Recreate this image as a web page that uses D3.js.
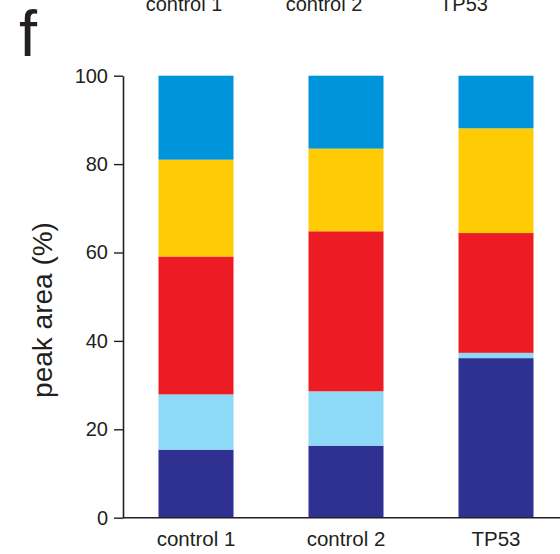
<!DOCTYPE html>
<html>
<head>
<meta charset="utf-8">
<script src="https://cdn.jsdelivr.net/npm/d3@7/dist/d3.min.js"></script>
<style>
  html, body { margin: 0; padding: 0; background: #fff; }
  svg { display: block; font-family: "Liberation Sans", Arial, Helvetica, sans-serif; }
</style>
</head>
<body>
<svg id="chart" width="560" height="554"></svg>
<script>
// Samples on the x axis
const categories = ["control 1", "control 2", "TP53"];

// Peak-area fractions (%) per component, stacked bottom to top
const seriesKeys = ["s1", "s2", "s3", "s4", "s5"];
const s1 = [15.4, 16.3, 36.1];   // navy
const s2 = [12.5, 12.3, 1.2];    // light blue
const s3 = [31.2, 36.2, 27.1];   // red
const s4 = [21.9, 18.7, 23.7];   // yellow
const s5 = [19.0, 16.5, 11.9];   // blue

const yTicks = [0, 20, 40, 60, 80, 100];
const colors = ["#2E3192", "#8ED8F8", "#ED1C24", "#FFCB05", "#0095DA"];

const rows = categories.map((c, i) => ({
  category: c, s1: s1[i], s2: s2[i], s3: s3[i], s4: s4[i], s5: s5[i]
}));

const svg = d3.select("#chart");
const ink = "#231F20";

const x = d3.scaleBand()
  .domain(categories)
  .range([121, 571])
  .paddingInner(0.5)
  .paddingOuter(0.25);

const y = d3.scaleLinear()
  .domain([0, 100])
  .range([517.7, 75.7]);

const color = d3.scaleOrdinal().domain(seriesKeys).range(colors);

const stacked = d3.stack().keys(seriesKeys)(rows);

// Stacked bars
svg.append("g")
  .selectAll("g")
  .data(stacked)
  .join("g")
    .attr("fill", d => color(d.key))
  .selectAll("rect")
  .data(d => d)
  .join("rect")
    .attr("x", d => x(d.data.category))
    .attr("width", x.bandwidth())
    .attr("y", d => y(d[1]))
    .attr("height", d => y(d[0]) - y(d[1]));

// Y axis
const yAxis = svg.append("g")
  .attr("transform", "translate(123,0)")
  .call(d3.axisLeft(y).tickValues(yTicks).tickSize(9).tickSizeOuter(0).tickPadding(6));
yAxis.select(".domain").attr("stroke", ink).attr("stroke-width", 1.6);
yAxis.selectAll(".tick line").attr("stroke", ink).attr("stroke-width", 1.4);
yAxis.selectAll(".tick text")
  .attr("fill", ink)
  .style("font-size", "20px")
  .style("font-family", "'Liberation Sans', Arial, sans-serif");

// X axis
const xAxis = svg.append("g")
  .attr("transform", "translate(0,517.7)")
  .call(d3.axisBottom(x).tickSize(0).tickSizeOuter(0).tickPadding(10));
xAxis.select(".domain").attr("d", "M123,0H560").attr("stroke", ink).attr("stroke-width", 1.6);
xAxis.selectAll(".tick text")
  .attr("fill", ink)
  .attr("dy", "0.71em")
  .attr("y", 13.5)
  .style("font-size", "20.5px")
  .style("font-family", "'Liberation Sans', Arial, sans-serif");

// Y axis title
svg.append("text")
  .attr("transform", "translate(52,310) rotate(-90)")
  .attr("text-anchor", "middle")
  .attr("fill", ink)
  .style("font-size", "28px")
  .text("peak area (%)");

// Sample labels of the panel above, cut by the top edge
const xTop = d3.scalePoint().domain(categories).range([184, 464]);
svg.append("g")
  .selectAll("text")
  .data(categories)
  .join("text")
    .attr("x", d => xTop(d))
    .attr("y", 10.5)
    .attr("text-anchor", "middle")
    .attr("fill", ink)
    .style("font-size", "20px")
    .text(d => d);

// Panel letter
svg.append("text")
  .attr("x", 19)
  .attr("y", 56)
  .attr("fill", ink)
  .style("font-size", "65px")
  .text("f");
</script>
</body>
</html>
